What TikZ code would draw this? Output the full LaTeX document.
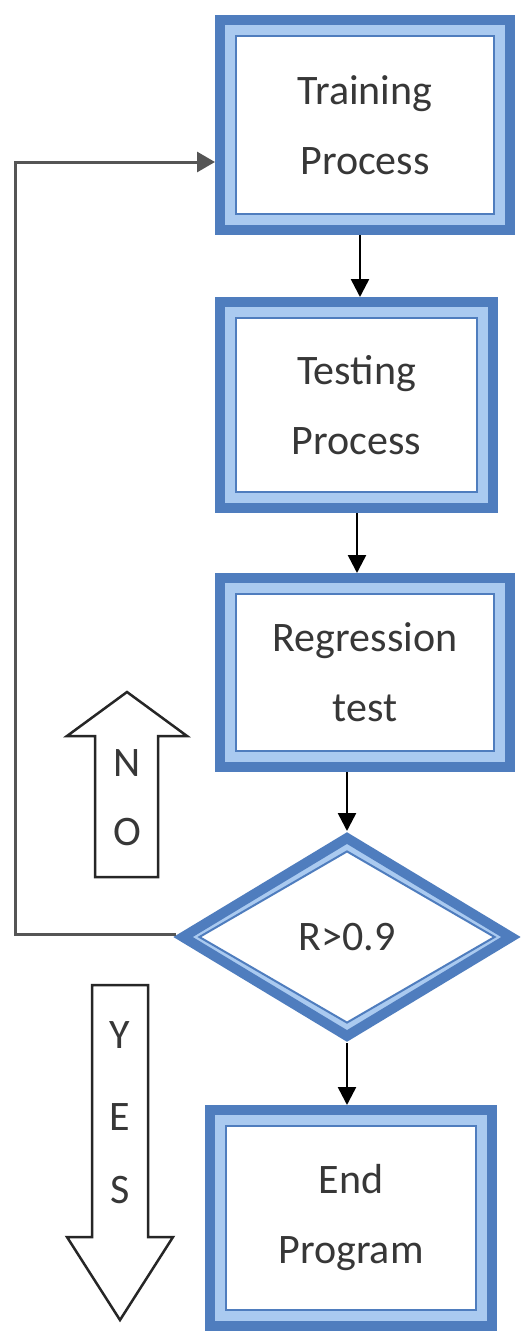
\documentclass[tikz,border=0pt]{standalone}
\usepackage{fontspec}
\setmainfont{Carlito}
\usetikzlibrary{shapes.geometric,arrows.meta,calc}
\definecolor{dkblue}{RGB}{79,125,190}
\definecolor{ltblue}{RGB}{170,202,240}
\definecolor{txtgray}{RGB}{55,55,55}
\definecolor{lngray}{RGB}{85,85,85}
\tikzset{
  outerbox/.style={rectangle, draw=dkblue, line width=10pt, fill=ltblue, inner sep=0pt},
  innerbox/.style={rectangle, draw=dkblue, line width=2pt, fill=white, inner sep=0pt,
    align=center, text=txtgray, font=\fontsize{42}{70}\selectfont},
  outerdia/.style={diamond, draw=dkblue, line width=10pt, fill=ltblue, inner sep=0pt},
  innerdia/.style={diamond, draw=dkblue, line width=2pt, fill=white, inner sep=0pt,
    text=txtgray, font=\fontsize{42}{50}\selectfont},
  flowarr/.style={draw=black, line width=2.5pt, -{Triangle[length=18pt,width=18pt]}},
  backarr/.style={draw=lngray, line width=3pt, -{Triangle[length=18pt,width=20pt]}},
  blockarr/.style={draw=black!85, line width=2.5pt, fill=white, line join=miter},
  letter/.style={text=txtgray, font=\fontsize{42}{50}\selectfont, inner sep=0pt}
}
\begin{document}
\begin{tikzpicture}[x=1pt,y=-1pt]
\useasboundingbox[fill=white] (0,0) rectangle (522,1331);

% boxes
\node[outerbox, minimum width=290pt, minimum height=210pt] (t1o) at (365,125) {};
\node[innerbox, minimum width=258pt, minimum height=178pt] (t1) at (365,125) {Training\\Process};

\node[outerbox, minimum width=273pt, minimum height=206pt] (t2o) at (356.5,405) {};
\node[innerbox, minimum width=241pt, minimum height=174pt] (t2) at (356.5,405) {Testing\\Process};

\node[outerbox, minimum width=290pt, minimum height=189pt] (t3o) at (365,672.5) {};
\node[innerbox, minimum width=258pt, minimum height=157pt] (t3) at (365,672.5) {Regression\\test};

\node[outerdia, minimum width=332pt, minimum height=202pt] (do) at (347,937) {};
\node[innerdia, minimum width=296pt, minimum height=172pt] (d) at (347,937) {R>0.9};

\node[outerbox, minimum width=282pt, minimum height=216pt] (teo) at (351,1218) {};
\node[innerbox, minimum width=250pt, minimum height=184pt] (te) at (351,1218) {End\\Program};

% flow arrows
\coordinate (ax1) at (360,0);
\coordinate (ax2) at (357,0);
\draw[flowarr] (t1o.south -| ax1) -- (t2o.north -| ax1);
\draw[flowarr] (t2o.south -| ax2) -- (t3o.north -| ax2);
\draw[flowarr] (do.north |- t3o.south) -- (do.north);
\draw[flowarr] (do.south) -- (do.south |- teo.north);

% feedback
\coordinate (lx) at (15,0);
\coordinate (fbs) at ($(do.west)+(0,-3)$);
\coordinate (t1in) at ($(t1o.west)+(0,37)$);
\draw[backarr] (fbs) -- (fbs -| lx) |- (t1in);

% NO block arrow
\draw[blockarr] (127,692) -- (187,736) -- (158,736) -- (158,877) -- (95,877) -- (95,736) -- (67,736) -- cycle;
\node[letter] (n1) at (127,763) {N};
\node[letter] (n2) at (127,832) {O};

% YES block arrow
\draw[blockarr] (92,985) -- (148,985) -- (148,1237) -- (173,1237) -- (120,1320) -- (67,1237) -- (92,1237) -- cycle;
\node[letter] (y1) at (120,1035) {Y};
\node[letter] (y2) at (120,1117) {E};
\node[letter] (y3) at (120,1190) {S};
\end{tikzpicture}
\end{document}
